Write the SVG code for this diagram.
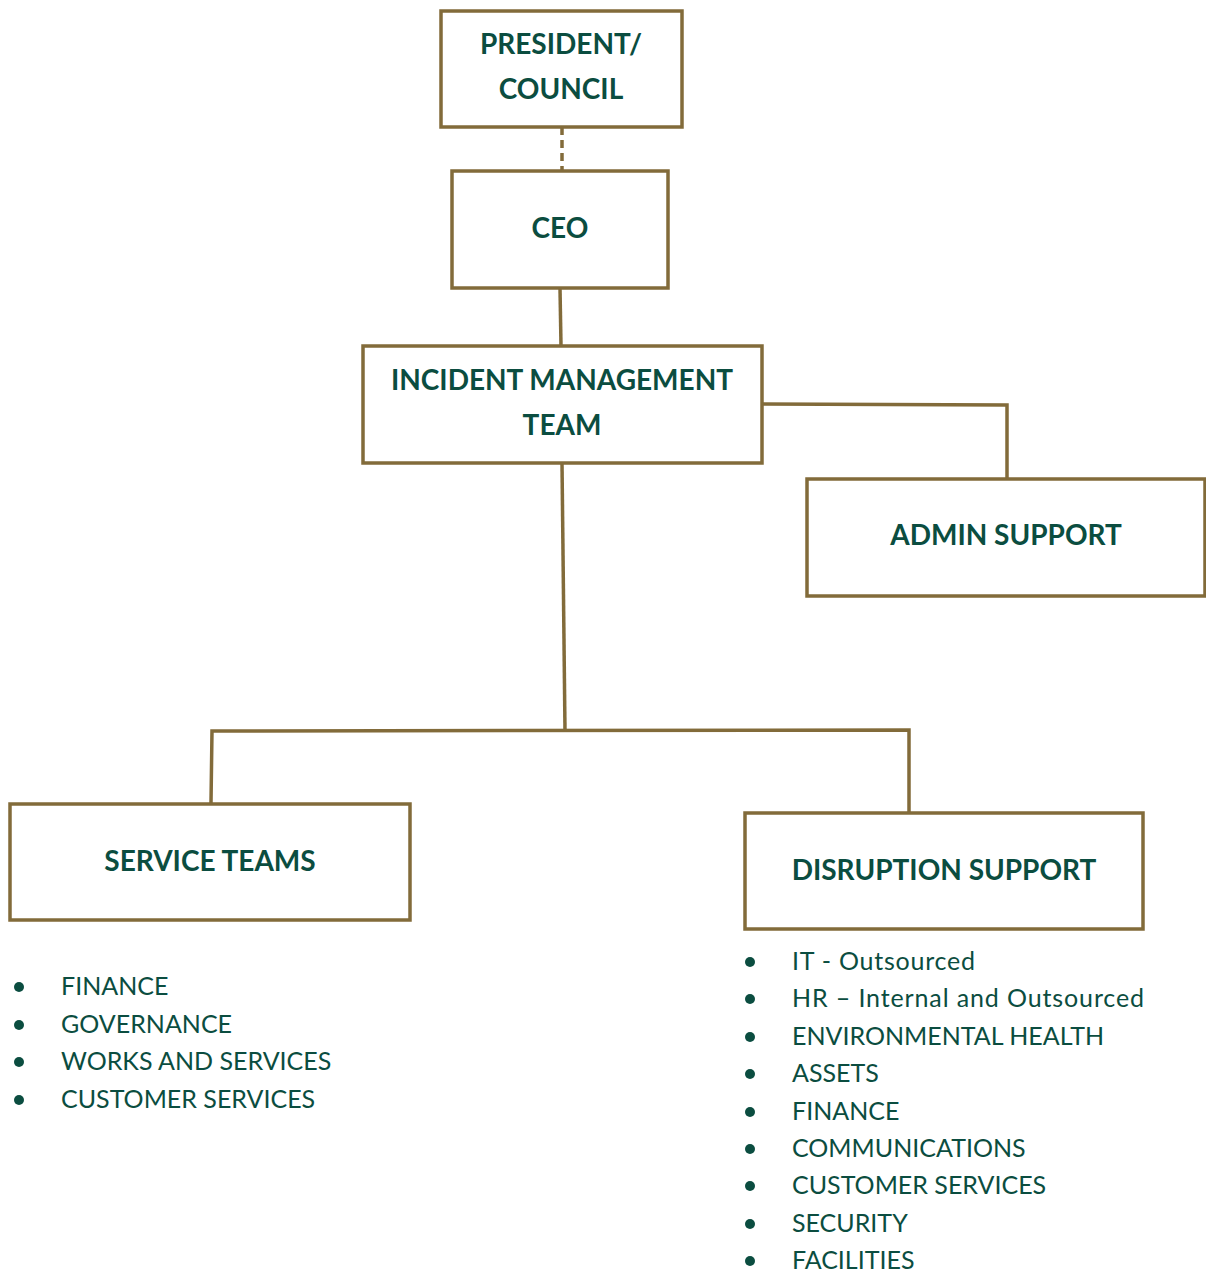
<svg xmlns="http://www.w3.org/2000/svg" width="1206" height="1273" viewBox="0 0 1206 1273">
<style>
.box{fill:#ffffff;stroke:#826b3a;stroke-width:3.5}
.ln{fill:none;stroke:#826b3a;stroke-width:3.5}
.h{font-family:Lato,"Liberation Sans",sans-serif;font-weight:bold;font-size:28px;fill:#0b4d40;text-anchor:middle}
.t{font-family:Lato,"Liberation Sans",sans-serif;font-size:25px;fill:#0b4d40}
.b{fill:#0b4d40}
</style>
<rect width="1206" height="1273" fill="#ffffff"/>
<g id="connectors">
<line class="ln" x1="562" y1="127" x2="562" y2="171" stroke-dasharray="8,5"/>
<line class="ln" x1="560" y1="288" x2="561" y2="346"/>
<polyline class="ln" points="762,404 1007,405 1007,478"/>
<line class="ln" x1="562" y1="463" x2="565" y2="730"/>
<polyline class="ln" points="211,803 212,731 909,730 909,812"/>
</g>
<g id="president">
<rect class="box" x="441" y="11" width="241" height="116"/>
<text class="h" x="561" y="54">PRESIDENT/</text>
<text class="h" x="561" y="99">COUNCIL</text>
</g>
<g id="ceo">
<rect class="box" x="452" y="171" width="216" height="117"/>
<text class="h" x="560" y="238">CEO</text>
</g>
<g id="imt">
<rect class="box" x="363" y="346" width="399" height="117"/>
<text class="h" x="562" y="390">INCIDENT MANAGEMENT</text>
<text class="h" x="562" y="435">TEAM</text>
</g>
<g id="admin">
<rect class="box" x="807" y="479" width="398" height="117"/>
<text class="h" x="1006" y="545">ADMIN SUPPORT</text>
</g>
<g id="service">
<rect class="box" x="10" y="804" width="400" height="116"/>
<text class="h" x="210" y="871">SERVICE TEAMS</text>
</g>
<g id="disruption">
<rect class="box" x="745" y="813" width="398" height="116"/>
<text class="h" x="944" y="880">DISRUPTION SUPPORT</text>
</g>
<g id="service-list">
<circle class="b" cx="19" cy="987" r="5"/><text class="t" x="61" y="995">FINANCE</text>
<circle class="b" cx="19" cy="1025" r="5"/><text class="t" x="61" y="1033">GOVERNANCE</text>
<circle class="b" cx="19" cy="1062" r="5"/><text class="t" x="61" y="1070">WORKS AND SERVICES</text>
<circle class="b" cx="19" cy="1100" r="5"/><text class="t" x="61" y="1108">CUSTOMER SERVICES</text>
</g>
<g id="disruption-list">
<circle class="b" cx="750" cy="962" r="5"/><text class="t" x="792" y="970" textLength="183" lengthAdjust="spacing">IT - Outsourced</text>
<circle class="b" cx="750" cy="999" r="5"/><text class="t" x="792" y="1007" textLength="352" lengthAdjust="spacing">HR – Internal and Outsourced</text>
<circle class="b" cx="750" cy="1037" r="5"/><text class="t" x="792" y="1045">ENVIRONMENTAL HEALTH</text>
<circle class="b" cx="750" cy="1074" r="5"/><text class="t" x="792" y="1082">ASSETS</text>
<circle class="b" cx="750" cy="1112" r="5"/><text class="t" x="792" y="1120">FINANCE</text>
<circle class="b" cx="750" cy="1149" r="5"/><text class="t" x="792" y="1157">COMMUNICATIONS</text>
<circle class="b" cx="750" cy="1186" r="5"/><text class="t" x="792" y="1194">CUSTOMER SERVICES</text>
<circle class="b" cx="750" cy="1224" r="5"/><text class="t" x="792" y="1232">SECURITY</text>
<circle class="b" cx="750" cy="1261" r="5"/><text class="t" x="792" y="1269">FACILITIES</text>
</g>
</svg>
